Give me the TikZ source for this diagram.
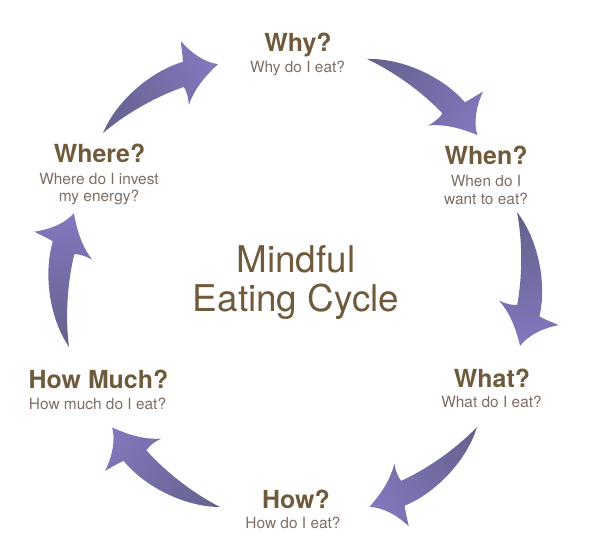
\documentclass[tikz,border=0pt]{standalone}
\usepackage{fontspec}
\setmainfont{TeX Gyre Heros}
\definecolor{titlebrown}{RGB}{111,91,60}
\definecolor{subbrown}{RGB}{125,110,100}
\definecolor{arrowtail}{RGB}{100,97,140}
\definecolor{arrowhead}{RGB}{130,121,190}
% tapered curved arrow: tail x, tail y (from the top), direction of travel (degrees)
\newcommand{\cyclearrow}[3]{%
  \begin{scope}[x=1bp, y=1bp, transform canvas={shift={(#1bp,-#2bp)}, rotate=#3}]
    \shade[left color=arrowtail, right color=arrowhead]
    (0,0) .. controls (30,22) and (75,28) .. (105,20)
    .. controls (109,27) and (111,33) .. (114,39)
    .. controls (117,22) and (124,8) .. (134,0)
    .. controls (115,-4) and (100,-10) .. (88,-20)
    .. controls (92,-13) and (93,-7) .. (93,-2)
    .. controls (65,4) and (30,5) .. (0,0) -- cycle;
  \end{scope}}

\begin{document}
\begin{tikzpicture}[x=1bp,y=-1bp,
  title/.style={anchor=base, inner sep=0pt, text=titlebrown, font=\fontsize{25}{30}\selectfont\bfseries},
  sub/.style={anchor=base, inner sep=0pt, text=subbrown, font=\fontsize{15.5}{18}\selectfont},
  centre/.style={anchor=base, inner sep=0pt, text=titlebrown, font=\fontsize{37}{40}\selectfont}]
  \useasboundingbox (0,0) rectangle (590,557);

  % centre
  \node (mindful) at (296,272) [centre] {Mindful};
  \node (eating) at (296,311) [centre] {Eating Cycle};

  % Why?
  \node (why) at (298,52) [title] {Why?};
  \node (whysub) at (297.5,73) [sub] {Why do I eat?};
  \cyclearrow{367}{59}{-34.6}

  % When?
  \node (when) at (486,165) [title] {When?};
  \node (whensub) at (486,187) [sub] {When do I};
  \node (whensubb) at (486,205) [sub] {want to eat?};
  \cyclearrow{517}{212}{-88.7}

  % What?
  \node (what) at (492,387) [title] {What?};
  \node (whatsub) at (491.5,407) [sub] {What do I eat?};
  \cyclearrow{477}{427}{-143.4}

  % How?
  \node (how) at (296,508) [title] {How?};
  \node (howsub) at (293,528) [sub] {How do I eat?};
  \cyclearrow{220}{507}{143.6}

  % How Much?
  \node (much) at (98.5,388) [title] {How Much?};
  \node (muchsub) at (97.5,409) [sub] {How much do I eat?};
  \cyclearrow{69}{347}{87.9}

  % Where?
  \node (where) at (99.5,163) [title] {Where?};
  \node (wheresub) at (99,185) [sub] {Where do I invest};
  \node (wheresubb) at (99,202) [sub] {my energy?};
  \cyclearrow{103}{133}{30.9}
\end{tikzpicture}
\end{document}
